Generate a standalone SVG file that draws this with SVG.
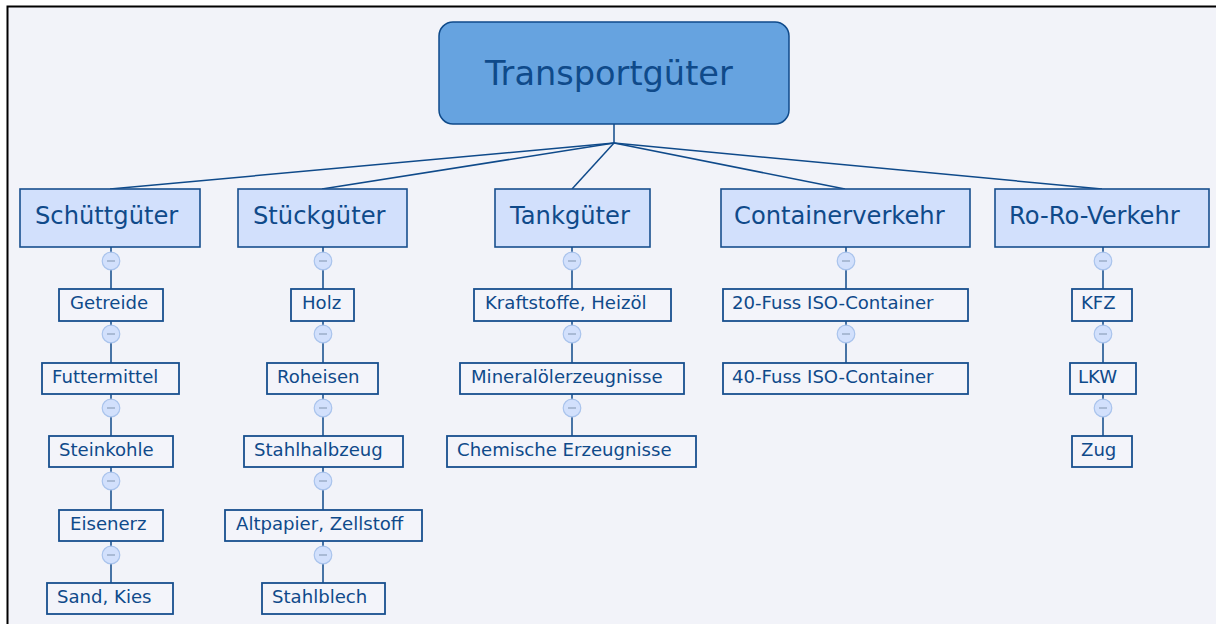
<svg xmlns="http://www.w3.org/2000/svg" width="1216" height="624" viewBox="0 0 1216 624">
  <style>
    text { font-family: "DejaVu Sans", Verdana, sans-serif; fill: #0f4a8a; }
    .root rect { fill: #66a3e0; stroke: #0f4a8a; stroke-width: 1.5; }
    .root text { font-size: 33.6px; }
    .cat rect { fill: #d2e0fc; stroke: #184f8e; stroke-width: 1.6; }
    .cat text { font-size: 24.2px; }
    .item rect { fill: #f3f4fa; stroke: #184f8e; stroke-width: 1.8; }
    .item text { font-size: 18.1px; }
    .links line { stroke: #0f4a8a; stroke-width: 1.5; }
  </style>
  <defs>
    <!-- collapse toggle: light blue disc with a minus -->
    <g id="tg">
      <circle cx="0" cy="0" r="8.8" fill="#d2e0fc" stroke="#a9c3ec" stroke-width="1.2"/>
      <line x1="-4" y1="0" x2="4" y2="0" stroke="#8ea0bb" stroke-width="1.2"/>
    </g>
  </defs>

  <!-- canvas -->
  <rect x="0" y="0" width="1216" height="624" fill="#ffffff"/>
  <rect x="8" y="7" width="1208" height="617" fill="#f2f3f9"/>
  <path d="M7.5 624 V6.5 H1216" fill="none" stroke="#000" stroke-width="2"/>

  <!-- connectors -->
  <g class="links">
    <line x1="614" y1="124" x2="614" y2="143"/>
    <line x1="614" y1="143" x2="110" y2="189"/>
    <line x1="614" y1="143" x2="322" y2="189"/>
    <line x1="614" y1="143" x2="572" y2="189"/>
    <line x1="614" y1="143" x2="845" y2="189"/>
    <line x1="614" y1="143" x2="1102" y2="189"/>
    <!-- column spines -->
    <line x1="111" y1="247" x2="111" y2="583"/>
    <line x1="323" y1="247" x2="323" y2="583"/>
    <line x1="572" y1="247" x2="572" y2="436"/>
    <line x1="846" y1="247" x2="846" y2="363"/>
    <line x1="1103" y1="247" x2="1103" y2="436"/>
  </g>

  <!-- root -->
  <g id="node-root" class="root">
    <rect x="439" y="22" width="350" height="102" rx="14"/>
    <text x="485" y="85">Transportgüter</text>
  </g>

  <!-- categories -->
  <g id="node-schuettgueter" class="cat">
    <rect x="20" y="189" width="180" height="58"/>
    <text x="35" y="224">Schüttgüter</text>
  </g>
  <g id="node-stueckgueter" class="cat">
    <rect x="238" y="189" width="169" height="58"/>
    <text x="253" y="224">Stückgüter</text>
  </g>
  <g id="node-tankgueter" class="cat">
    <rect x="495" y="189" width="155" height="58"/>
    <text x="510" y="224">Tankgüter</text>
  </g>
  <g id="node-containerverkehr" class="cat">
    <rect x="721" y="189" width="249" height="58"/>
    <text x="734" y="224">Containerverkehr</text>
  </g>
  <g id="node-roro" class="cat">
    <rect x="995" y="189" width="214" height="58"/>
    <text x="1009" y="224">Ro-Ro-Verkehr</text>
  </g>

  <!-- Schüttgüter items -->
  <g id="node-getreide" class="item">
    <rect x="59" y="289" width="104" height="32"/>
    <text x="70" y="309">Getreide</text>
  </g>
  <g id="node-futtermittel" class="item">
    <rect x="42" y="363" width="137" height="31"/>
    <text x="52" y="383">Futtermittel</text>
  </g>
  <g id="node-steinkohle" class="item">
    <rect x="49" y="436" width="124" height="31"/>
    <text x="59" y="456">Steinkohle</text>
  </g>
  <g id="node-eisenerz" class="item">
    <rect x="59" y="510" width="104" height="31"/>
    <text x="70" y="530">Eisenerz</text>
  </g>
  <g id="node-sand-kies" class="item">
    <rect x="47" y="583" width="126" height="31"/>
    <text x="57" y="603">Sand, Kies</text>
  </g>

  <!-- Stückgüter items -->
  <g id="node-holz" class="item">
    <rect x="291" y="289" width="63" height="32"/>
    <text x="302" y="309">Holz</text>
  </g>
  <g id="node-roheisen" class="item">
    <rect x="267" y="363" width="111" height="31"/>
    <text x="277" y="383">Roheisen</text>
  </g>
  <g id="node-stahlhalbzeug" class="item">
    <rect x="244" y="436" width="159" height="31"/>
    <text x="254" y="456">Stahlhalbzeug</text>
  </g>
  <g id="node-altpapier" class="item">
    <rect x="225" y="510" width="197" height="31"/>
    <text x="236" y="530">Altpapier, Zellstoff</text>
  </g>
  <g id="node-stahlblech" class="item">
    <rect x="262" y="583" width="123" height="31"/>
    <text x="272" y="603">Stahlblech</text>
  </g>

  <!-- Tankgüter items -->
  <g id="node-kraftstoffe" class="item">
    <rect x="474" y="289" width="197" height="32"/>
    <text x="485" y="309">Kraftstoffe, Heizöl</text>
  </g>
  <g id="node-mineraloel" class="item">
    <rect x="460" y="363" width="224" height="31"/>
    <text x="471" y="383">Mineralölerzeugnisse</text>
  </g>
  <g id="node-chemie" class="item">
    <rect x="447" y="436" width="249" height="31"/>
    <text x="457" y="456">Chemische Erzeugnisse</text>
  </g>

  <!-- Containerverkehr items -->
  <g id="node-20fuss" class="item">
    <rect x="723" y="289" width="245" height="32"/>
    <text x="732" y="309">20-Fuss ISO-Container</text>
  </g>
  <g id="node-40fuss" class="item">
    <rect x="723" y="363" width="245" height="31"/>
    <text x="732" y="383">40-Fuss ISO-Container</text>
  </g>

  <!-- Ro-Ro items -->
  <g id="node-kfz" class="item">
    <rect x="1072" y="289" width="60" height="32"/>
    <text x="1081" y="309">KFZ</text>
  </g>
  <g id="node-lkw" class="item">
    <rect x="1070" y="363" width="66" height="31"/>
    <text x="1078" y="383">LKW</text>
  </g>
  <g id="node-zug" class="item">
    <rect x="1072" y="436" width="60" height="31"/>
    <text x="1081" y="456">Zug</text>
  </g>

  <!-- collapse toggles -->
  <g class="toggle">
    <use href="#tg" x="111" y="261"/>
    <use href="#tg" x="111" y="334"/>
    <use href="#tg" x="111" y="408"/>
    <use href="#tg" x="111" y="481"/>
    <use href="#tg" x="111" y="555"/>
    <use href="#tg" x="323" y="261"/>
    <use href="#tg" x="323" y="334"/>
    <use href="#tg" x="323" y="408"/>
    <use href="#tg" x="323" y="481"/>
    <use href="#tg" x="323" y="555"/>
    <use href="#tg" x="572" y="261"/>
    <use href="#tg" x="572" y="334"/>
    <use href="#tg" x="572" y="408"/>
    <use href="#tg" x="846" y="261"/>
    <use href="#tg" x="846" y="334"/>
    <use href="#tg" x="1103" y="261"/>
    <use href="#tg" x="1103" y="334"/>
    <use href="#tg" x="1103" y="408"/>
  </g>
</svg>
